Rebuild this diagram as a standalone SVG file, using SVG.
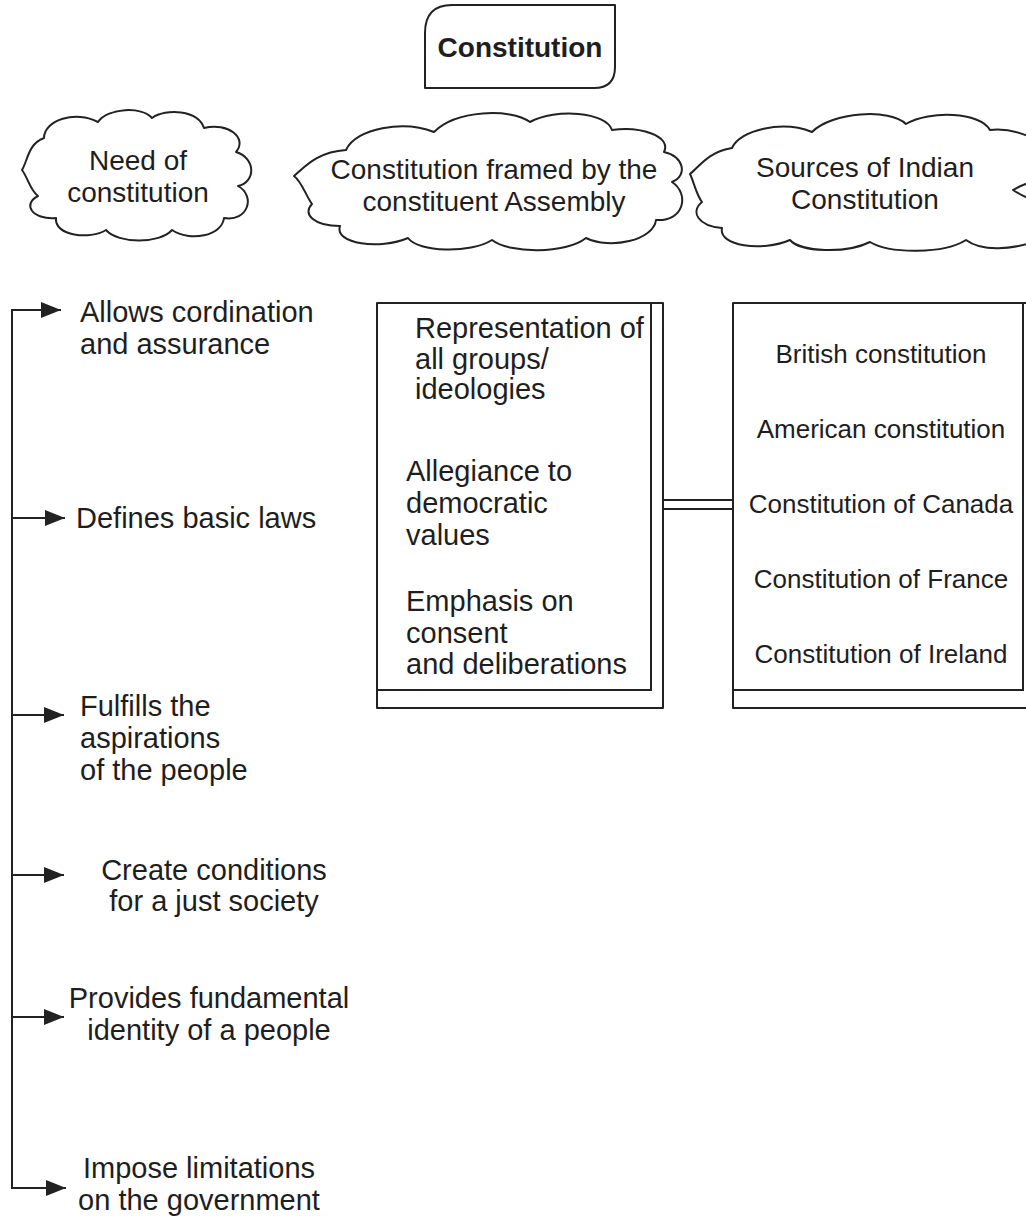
<svg xmlns="http://www.w3.org/2000/svg" width="1026" height="1219" viewBox="0 0 1026 1219">
<style>
  .bg{fill:#ffffff}
  .shape{fill:#ffffff;stroke:#222222;stroke-width:2;stroke-linejoin:round}
  .line{fill:none;stroke:#222222;stroke-width:2}
  .t{font-family:"Liberation Sans",Arial,Helvetica,sans-serif;font-size:28px;fill:#1e1e1e}
  .tl{font-family:"Liberation Sans",Arial,Helvetica,sans-serif;font-size:29px;fill:#1e1e1e}
  .tb{font-family:"Liberation Sans",Arial,Helvetica,sans-serif;font-size:28px;font-weight:bold;fill:#1e1e1e}
  .ts{font-family:"Liberation Sans",Arial,Helvetica,sans-serif;font-size:26px;fill:#1e1e1e}
  .c{text-anchor:middle}
</style>
<defs>
  <marker id="arrow" markerUnits="userSpaceOnUse" markerWidth="22" markerHeight="18" refX="20" refY="8" orient="auto">
    <path d="M0,0 L20,8 L0,16 Z" fill="#222222"/>
  </marker>
</defs>
<rect class="bg" x="0" y="0" width="1026" height="1219"/>

<g id="node-constitution">
  <path class="shape" d="M452,5 H615 V67 Q615,88 594,88 H425 V33 Q425,5 452,5 Z"/>
  <text class="tb c" x="520" y="57">Constitution</text>
</g>

<g id="node-need">
  <path class="shape" d="M22,170 C28,160 28,144 44,138 C44,120 76,110 98,122 C108,108 142,106 152,118 C166,108 198,110 204,128 C228,122 248,138 236,152 C256,158 256,182 238,186 C256,196 248,222 224,218 C222,236 190,242 172,230 C160,244 118,244 106,230 C90,240 54,236 56,218 C32,220 22,204 38,196 C30,190 28,178 22,170 Z"/>
  <text class="t c" x="138" y="170">Need of</text>
  <text class="t c" x="138" y="202">constitution</text>
</g>

<g id="node-framed">
  <path class="shape" d="M294,176 C304,168 316,152 346,150 C356,128 404,120 434,132 C456,110 510,108 530,122 C556,108 606,112 612,130 C640,126 672,136 664,152 C684,156 688,176 672,182 C690,194 684,222 656,220 C654,240 610,250 586,238 C566,254 510,254 492,240 C470,254 418,252 408,238 C380,250 334,244 340,226 C314,226 302,214 312,204 C306,196 302,182 294,176 Z"/>
  <text class="t c" x="494" y="179">Constitution framed by the</text>
  <text class="t c" x="494" y="211">constituent Assembly</text>
</g>

<g id="node-sources">
  <path class="shape" d="M690,174 C700,166 708,152 732,148 C740,130 782,120 812,132 C832,112 890,108 906,124 C930,110 980,112 990,130 C1008,128 1026,134 1040,142 L1040,180 C1030,182 1020,186 1013,190 C1022,196 1032,200 1040,202 L1040,240 C1012,250 982,252 966,240 C944,254 890,254 870,242 C846,254 800,252 790,240 C762,252 718,246 722,228 C698,226 690,212 702,202 C696,194 694,182 690,174 Z"/>
  <text class="t c" x="865" y="177">Sources of Indian</text>
  <text class="t c" x="865" y="209">Constitution</text>
</g>

<g id="node-assembly-box">
  <rect class="shape" x="377" y="303" width="286" height="405"/>
  <path class="line" d="M651,303 V690 H377"/>
  <text class="tl" x="415" y="338">Representation of</text>
  <text class="tl" x="415" y="369">all groups/</text>
  <text class="tl" x="415" y="399">ideologies</text>
  <text class="tl" x="406" y="481">Allegiance to</text>
  <text class="tl" x="406" y="513">democratic</text>
  <text class="tl" x="406" y="545">values</text>
  <text class="tl" x="406" y="611">Emphasis on</text>
  <text class="tl" x="406" y="643">consent</text>
  <text class="tl" x="406" y="674">and deliberations</text>
</g>

<g id="node-sources-box">
  <rect class="shape" x="733" y="303" width="310" height="405"/>
  <path class="line" d="M1023,303 V690 H733"/>
  <text class="ts c" x="881" y="363">British constitution</text>
  <text class="ts c" x="881" y="438">American constitution</text>
  <text class="ts c" x="881" y="513">Constitution of Canada</text>
  <text class="ts c" x="881" y="588">Constitution of France</text>
  <text class="ts c" x="881" y="663">Constitution of Ireland</text>
</g>

<g id="node-allows">
  <text class="tl" x="80" y="322">Allows cordination</text>
  <text class="tl" x="80" y="354">and assurance</text>
</g>
<g id="node-defines">
  <text class="tl" x="76" y="528">Defines basic laws</text>
</g>
<g id="node-fulfills">
  <text class="tl" x="80" y="716">Fulfills the</text>
  <text class="tl" x="80" y="748">aspirations</text>
  <text class="tl" x="80" y="780">of the people</text>
</g>
<g id="node-create">
  <text class="tl c" x="214" y="880">Create conditions</text>
  <text class="tl c" x="214" y="911">for a just society</text>
</g>
<g id="node-provides">
  <text class="tl c" x="209" y="1008">Provides fundamental</text>
  <text class="tl c" x="209" y="1040">identity of a people</text>
</g>
<g id="node-impose">
  <text class="tl c" x="199" y="1178">Impose limitations</text>
  <text class="tl c" x="199" y="1210">on the government</text>
</g>

<g id="connectors">
  <line class="line" x1="12" y1="309" x2="12" y2="1189"/>
  <line class="line" x1="11" y1="310" x2="61" y2="310" marker-end="url(#arrow)"/>
  <line class="line" x1="12" y1="518" x2="65" y2="518" marker-end="url(#arrow)"/>
  <line class="line" x1="12" y1="715" x2="64" y2="715" marker-end="url(#arrow)"/>
  <line class="line" x1="12" y1="875" x2="64" y2="875" marker-end="url(#arrow)"/>
  <line class="line" x1="12" y1="1017" x2="64" y2="1017" marker-end="url(#arrow)"/>
  <line class="line" x1="11" y1="1188" x2="66" y2="1188" marker-end="url(#arrow)"/>
  <line class="line" x1="663" y1="500" x2="733" y2="500"/>
  <line class="line" x1="663" y1="509" x2="733" y2="509"/>
</g>
</svg>
